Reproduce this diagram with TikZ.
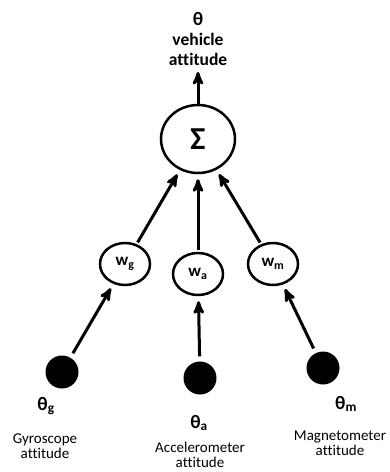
\documentclass[tikz,border=0pt]{standalone}
\usepackage{fontspec}
\setmainfont{Carlito}[Ligatures=NoCommon]
\usetikzlibrary{arrows,positioning,shapes.geometric}

\begin{document}
\begin{tikzpicture}[x=1pt,y=-1pt,>=stealth',
		every edge/.style={draw,line width=3pt,shorten >=5pt,shorten <=5pt},
		sumnode/.style={draw,ellipse,line width=2.5pt,minimum width=74pt,minimum height=68pt,inner sep=0pt,font=\bfseries\fontsize{32}{32}\selectfont},
		wnode/.style={draw,ellipse,line width=2.5pt,minimum width=50pt,minimum height=42pt,inner sep=0pt,font=\bfseries\fontsize{17}{17}\selectfont},
		sensor/.style={circle,fill=black,minimum size=33pt,inner sep=0pt},
		thlabel/.style={font=\bfseries\fontsize{19}{19}\selectfont},
		desc/.style={align=center,font=\fontsize{15}{14.5}\selectfont}]
		\useasboundingbox (0,0) rectangle (389,472);

		\node[sumnode] (sum) at (198,139) {Σ};
		\node[wnode] (wg) at (125,264) {w\textsubscript{g}};
		\node[wnode] (wa) at (198,274) {w\textsubscript{a}};
		\node[wnode] (wm) at (273,264) {w\textsubscript{m}};

		\node[sensor] (sg) at (62,372) {};
		\node[sensor] (sa) at (200,378) {};
		\node[sensor] (sm) at (323,368) {};

		\node[align=center,font=\bfseries\fontsize{17.5}{20}\selectfont] (top) at (198,39) {{\fontsize{19}{19}\selectfont θ}\\vehicle\\attitude};
		\coordinate (out) at (198,72);

		\node[thlabel] (tg) at (46,406) {θ\textsubscript{g}};
		\node[thlabel] (ta) at (199,423) {θ\textsubscript{a}};
		\node[thlabel] (tm) at (346,404) {θ\textsubscript{m}};

		\node[desc] (dg) at (45,446) {Gyroscope\\attitude};
		\node[desc] (da) at (200,455) {Accelerometer\\attitude};
		\node[desc] (dm) at (340,443) {Magnetometer\\attitude};

		\path[->]
		(sum) edge [shorten <=0pt,shorten >=0pt] (out)
		(wg) edge [shorten <=2pt] (sum)
		(wa) edge [shorten <=2pt] (sum)
		(wm) edge [shorten <=2pt] (sum)
		(sg) edge (wg)
		(sa) edge (wa)
		(sm) edge (wm)
		;
\end{tikzpicture}
\end{document}
